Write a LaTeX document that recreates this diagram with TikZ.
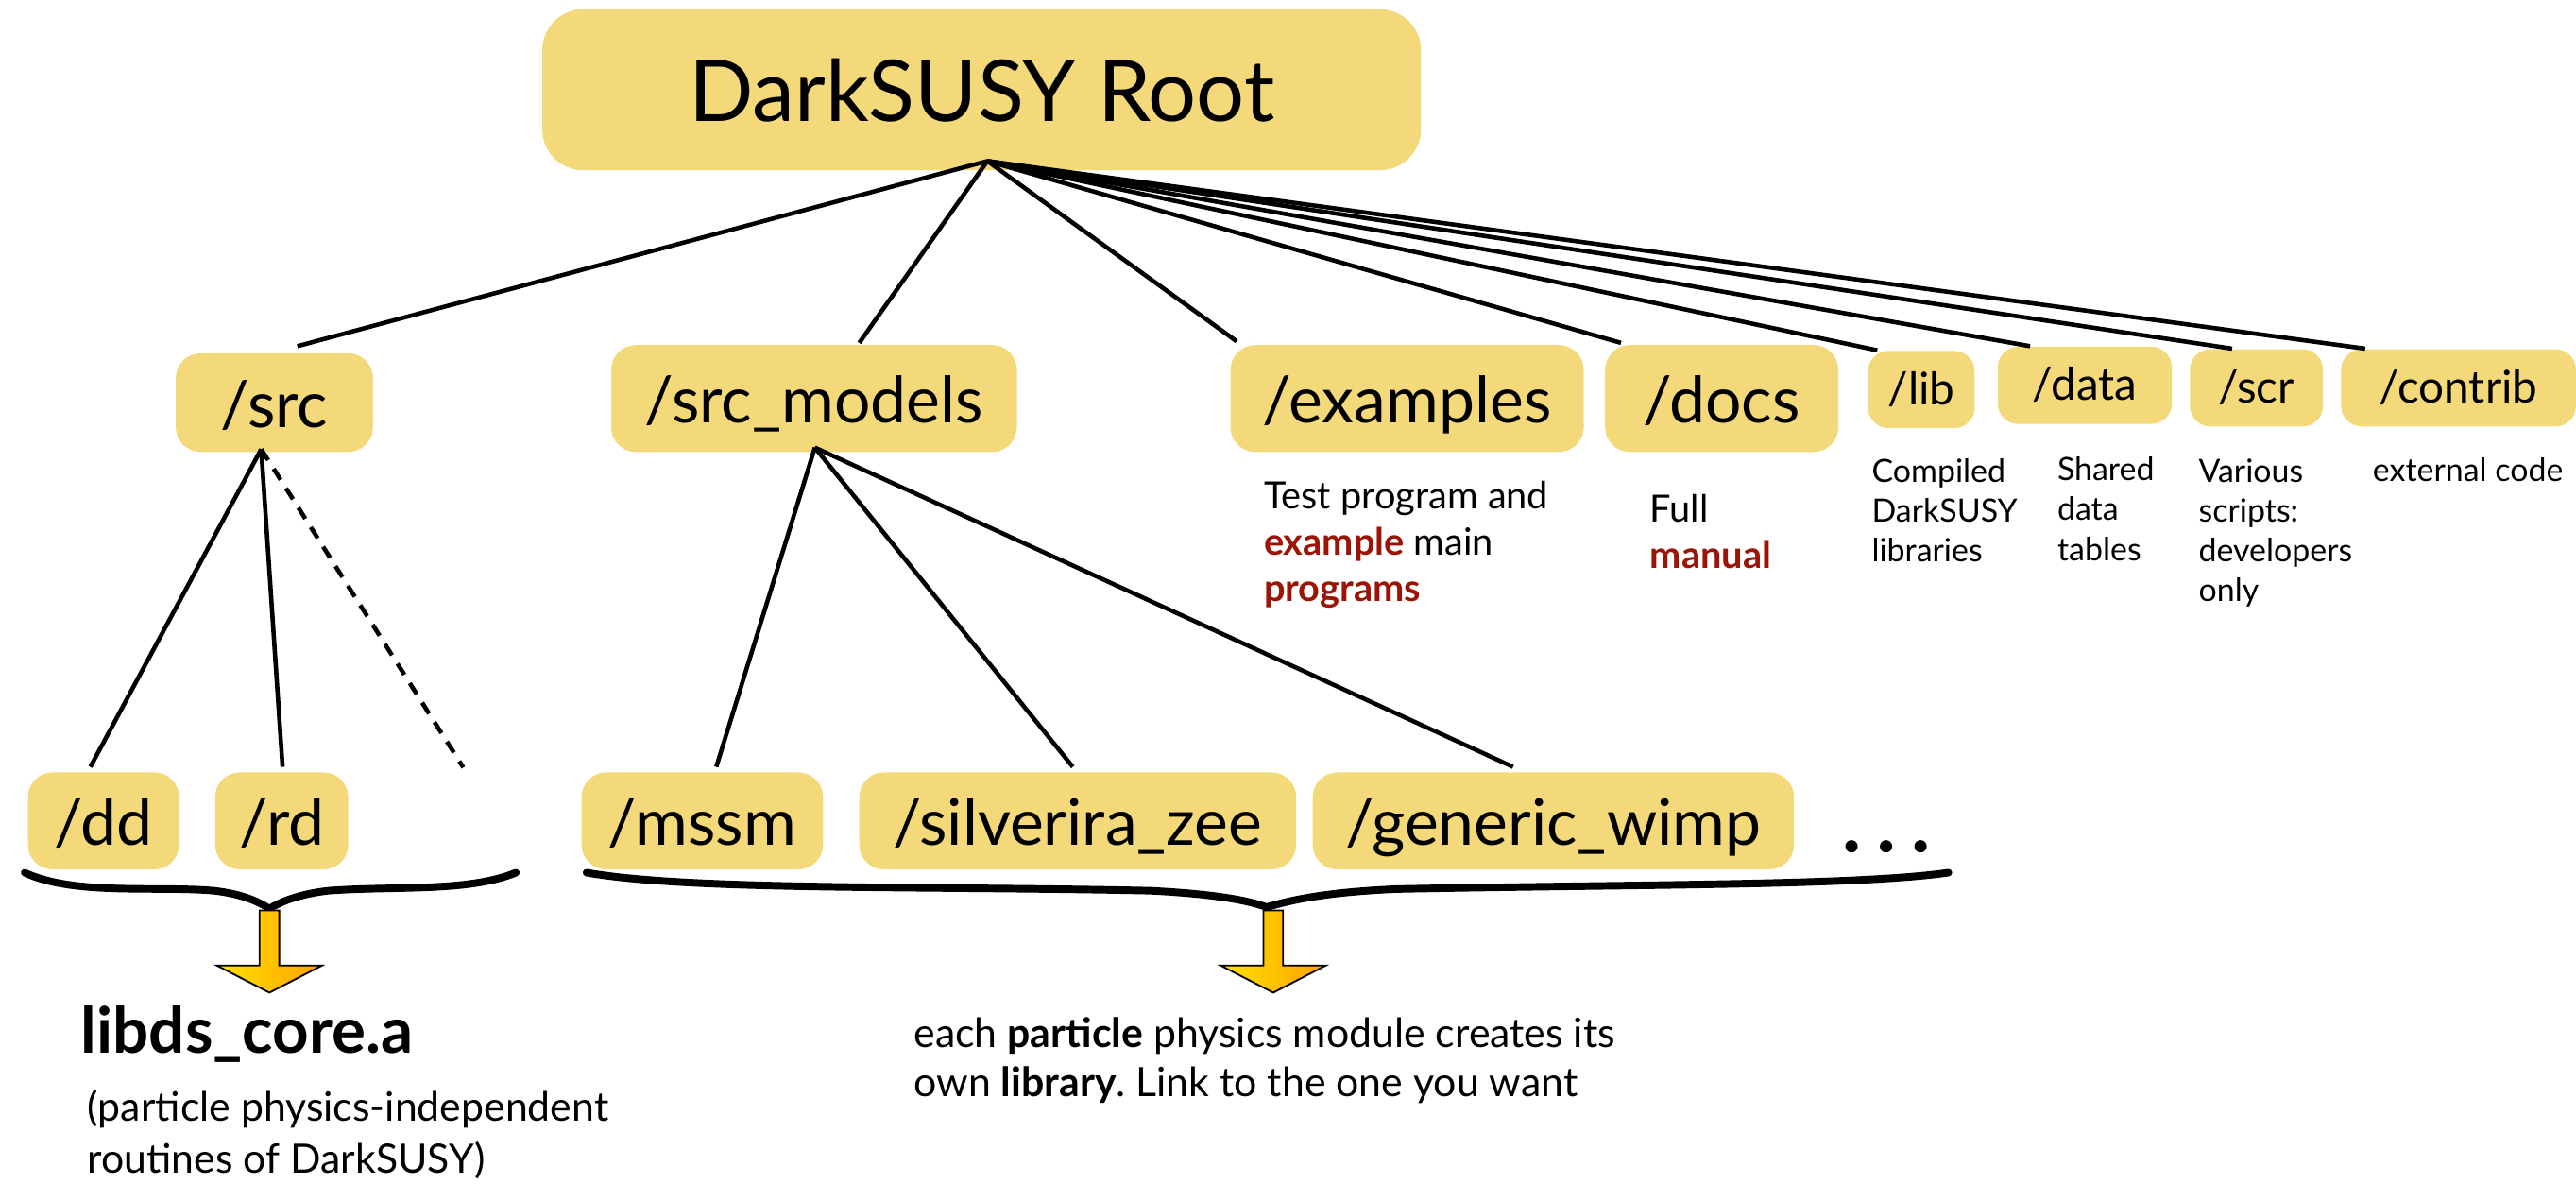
\documentclass[tikz,border=0pt]{standalone}
\usepackage{fontspec}
\setmainfont{Lato}
\usetikzlibrary{calc,backgrounds}
\definecolor{boxfill}{RGB}{243,217,122}
\definecolor{hl}{RGB}{155,20,5}
\definecolor{arrowA}{RGB}{255,228,0}
\definecolor{arrowB}{RGB}{255,160,0}
\frenchspacing
\begin{document}
\begin{tikzpicture}[x=0.02cm,y=-0.02cm,
  rootbox/.style={fill=boxfill, rounded corners=0.5cm, inner sep=0pt,
    font=\fontsize{29.5}{35}\selectfont, text height=0.78cm, text depth=0cm},
  bigbox/.style={fill=boxfill, rounded corners=0.3cm, inner sep=0pt,
    font=\fontsize{22.2}{26}\selectfont, text height=0.6cm, text depth=0cm,
    minimum height=1.2cm},
  smallbox/.style={fill=boxfill, rounded corners=0.25cm, inner sep=0pt,
    font=\fontsize{15.6}{19}\selectfont, text height=0.37cm, text depth=0cm,
    minimum height=0.94cm},
  lowbox/.style={bigbox, minimum height=1.18cm},
  desc/.style={inner sep=0pt, align=left, anchor=base west},
  bigdesc/.style={desc, font=\fontsize{13}{16}\selectfont},
  smalldesc/.style={desc, font=\fontsize{11.1}{13.8}\selectfont},
  botdesc/.style={desc, font=\fontsize{14}{18}\selectfont},
  link/.style={line width=1.5pt},
  dashlink/.style={line width=1.5pt, dash pattern=on 4.5pt off 3.5pt},
  brace/.style={line width=2.6pt, line cap=round, line join=round},
  fatarrow/.style={draw=black, line width=0.6pt, left color=arrowA, right color=arrowB}]
\useasboundingbox (0,0) rectangle (1568,720);

% boxes
\node[rootbox, minimum width=10.7cm, minimum height=1.96cm] (root) at (597.5,54.6) {DarkSUSY Root};

\node[bigbox, minimum width=2.4cm, minimum height=1.2cm] (src) at (167,245) {/src};
\node[bigbox, minimum width=4.94cm, minimum height=1.3cm] (srcmodels) at (495.5,242.5) {/src\_models};
\node[bigbox, minimum width=4.3cm, minimum height=1.3cm] (examples) at (856.5,242.5) {/examples};
\node[bigbox, minimum width=2.84cm, minimum height=1.3cm] (docs) at (1048,242.5) {/docs};
\node[smallbox, minimum width=1.3cm] (lib) at (1169.5,237) {/lib};
\node[smallbox, minimum width=2.12cm] (data) at (1269,234.5) {/data};
\node[smallbox, minimum width=1.62cm] (scr) at (1373.5,236) {/scr};
\node[smallbox, minimum width=2.86cm] (contrib) at (1496.5,236) {/contrib};

\node[lowbox, minimum width=1.84cm] (dd) at (63,499.5) {/dd};
\node[lowbox, minimum width=1.62cm] (rd) at (171.5,499.5) {/rd};
\node[lowbox, minimum width=2.94cm] (mssm) at (427.5,499.5) {/mssm};
\node[lowbox, minimum width=5.32cm] (silverira) at (656,499.5) {/silverira\_zee};
\node[lowbox, minimum width=5.86cm] (generic) at (945.5,499.5) {/generic\_wimp};

% connectors
\coordinate (R) at (601,98);
\coordinate (S) at ($(src.south)+(-8,-2)$);
\coordinate (M) at ($(srcmodels.south)+(0.5,-3)$);
\coordinate (dots) at (282,467);
\begin{scope}[link]
\draw (R) -- ($(src.north)+(14,-4)$);
\draw (R) -- ($(srcmodels.north)+(27.5,-1)$);
\draw (R) -- ($(examples.north west)+(4,-2)$);
\draw (R) -- ($(docs.north west)+(10,-1)$);
\draw (R) -- ($(lib.north west)+(6,0)$);
\draw (R) -- ($(data.north west)+(20,0)$);
\draw (R) -- ($(scr.north west)+(26,0)$);
\draw (R) -- ($(contrib.north west)+(15,0)$);
\draw (S) -- ($(dd.north)+(-8,-3)$);
\draw (S) -- ($(rd.north)+(0.5,-3)$);
\draw (M) -- ($(mssm.north)+(8.5,-3)$);
\draw (M) -- ($(silverira.north)+(-3,-3)$);
\draw (M) -- ($(generic.north)+(-24.5,-3)$);
\end{scope}
\draw[dashlink] (S) -- (dots);

% ellipsis
\foreach \x in {1127,1148,1169} \fill (\x,515) circle (0.075cm);

% descriptions (anchored at the baseline of their last line)
\node[bigdesc] (exdesc) at (769,366) {Test program and\\\textcolor{hl}{\textbf{example}} main\\\textcolor{hl}{\textbf{programs}}};
\node[bigdesc] (docdesc) at (1004,346) {Full\\\textcolor{hl}{\textbf{manual}}};
\node[smalldesc] (libdesc) at (1139,342) {Compiled\\DarkSUSY\\libraries};
\node[smalldesc] (datadesc) at (1252,341) {Shared\\data\\tables};
\node[smalldesc] (scrdesc) at (1338,366) {Various\\scripts:\\developers\\only};
\node[smalldesc] (contribdesc) at (1444,293) {external code};

% braces
\draw[brace] (15,531) .. controls (45,545) and (95,539) .. (130,542)
  .. controls (148,544) and (158,549) .. (164,553)
  .. controls (170,549) and (182,544) .. (200,542)
  .. controls (240,539) and (285,543) .. (314,531);
\draw[brace] (357,531) .. controls (420,542) and (560,539) .. (700,542)
  .. controls (740,544) and (760,548) .. (771,552)
  .. controls (785,548) and (805,543) .. (850,541)
  .. controls (1000,538) and (1130,539) .. (1186,531);

% fat arrows
\path[fatarrow] (158,554) -- (170,554) -- (170,587.5) -- (196,587.5) -- (164,604) -- (132,587.5) -- (158,587.5) -- cycle;
\path[fatarrow] (769,554) -- (781,554) -- (781,587.5) -- (807,587.5) -- (775,604) -- (743,587.5) -- (769,587.5) -- cycle;

% bottom texts
\node[desc, font=\fontsize{22}{26}\selectfont\bfseries] (core) at (49,641) {libds\_core.a};
\node[botdesc] (coredesc) at (53,714) {(particle physics-independent\\routines of DarkSUSY)};
\node[desc, font=\fontsize{14}{17}\selectfont] (moddesc) at (556,667) {each \textbf{particle} physics module creates its\\own \textbf{library}. Link to the one you want};
\end{tikzpicture}
\end{document}
